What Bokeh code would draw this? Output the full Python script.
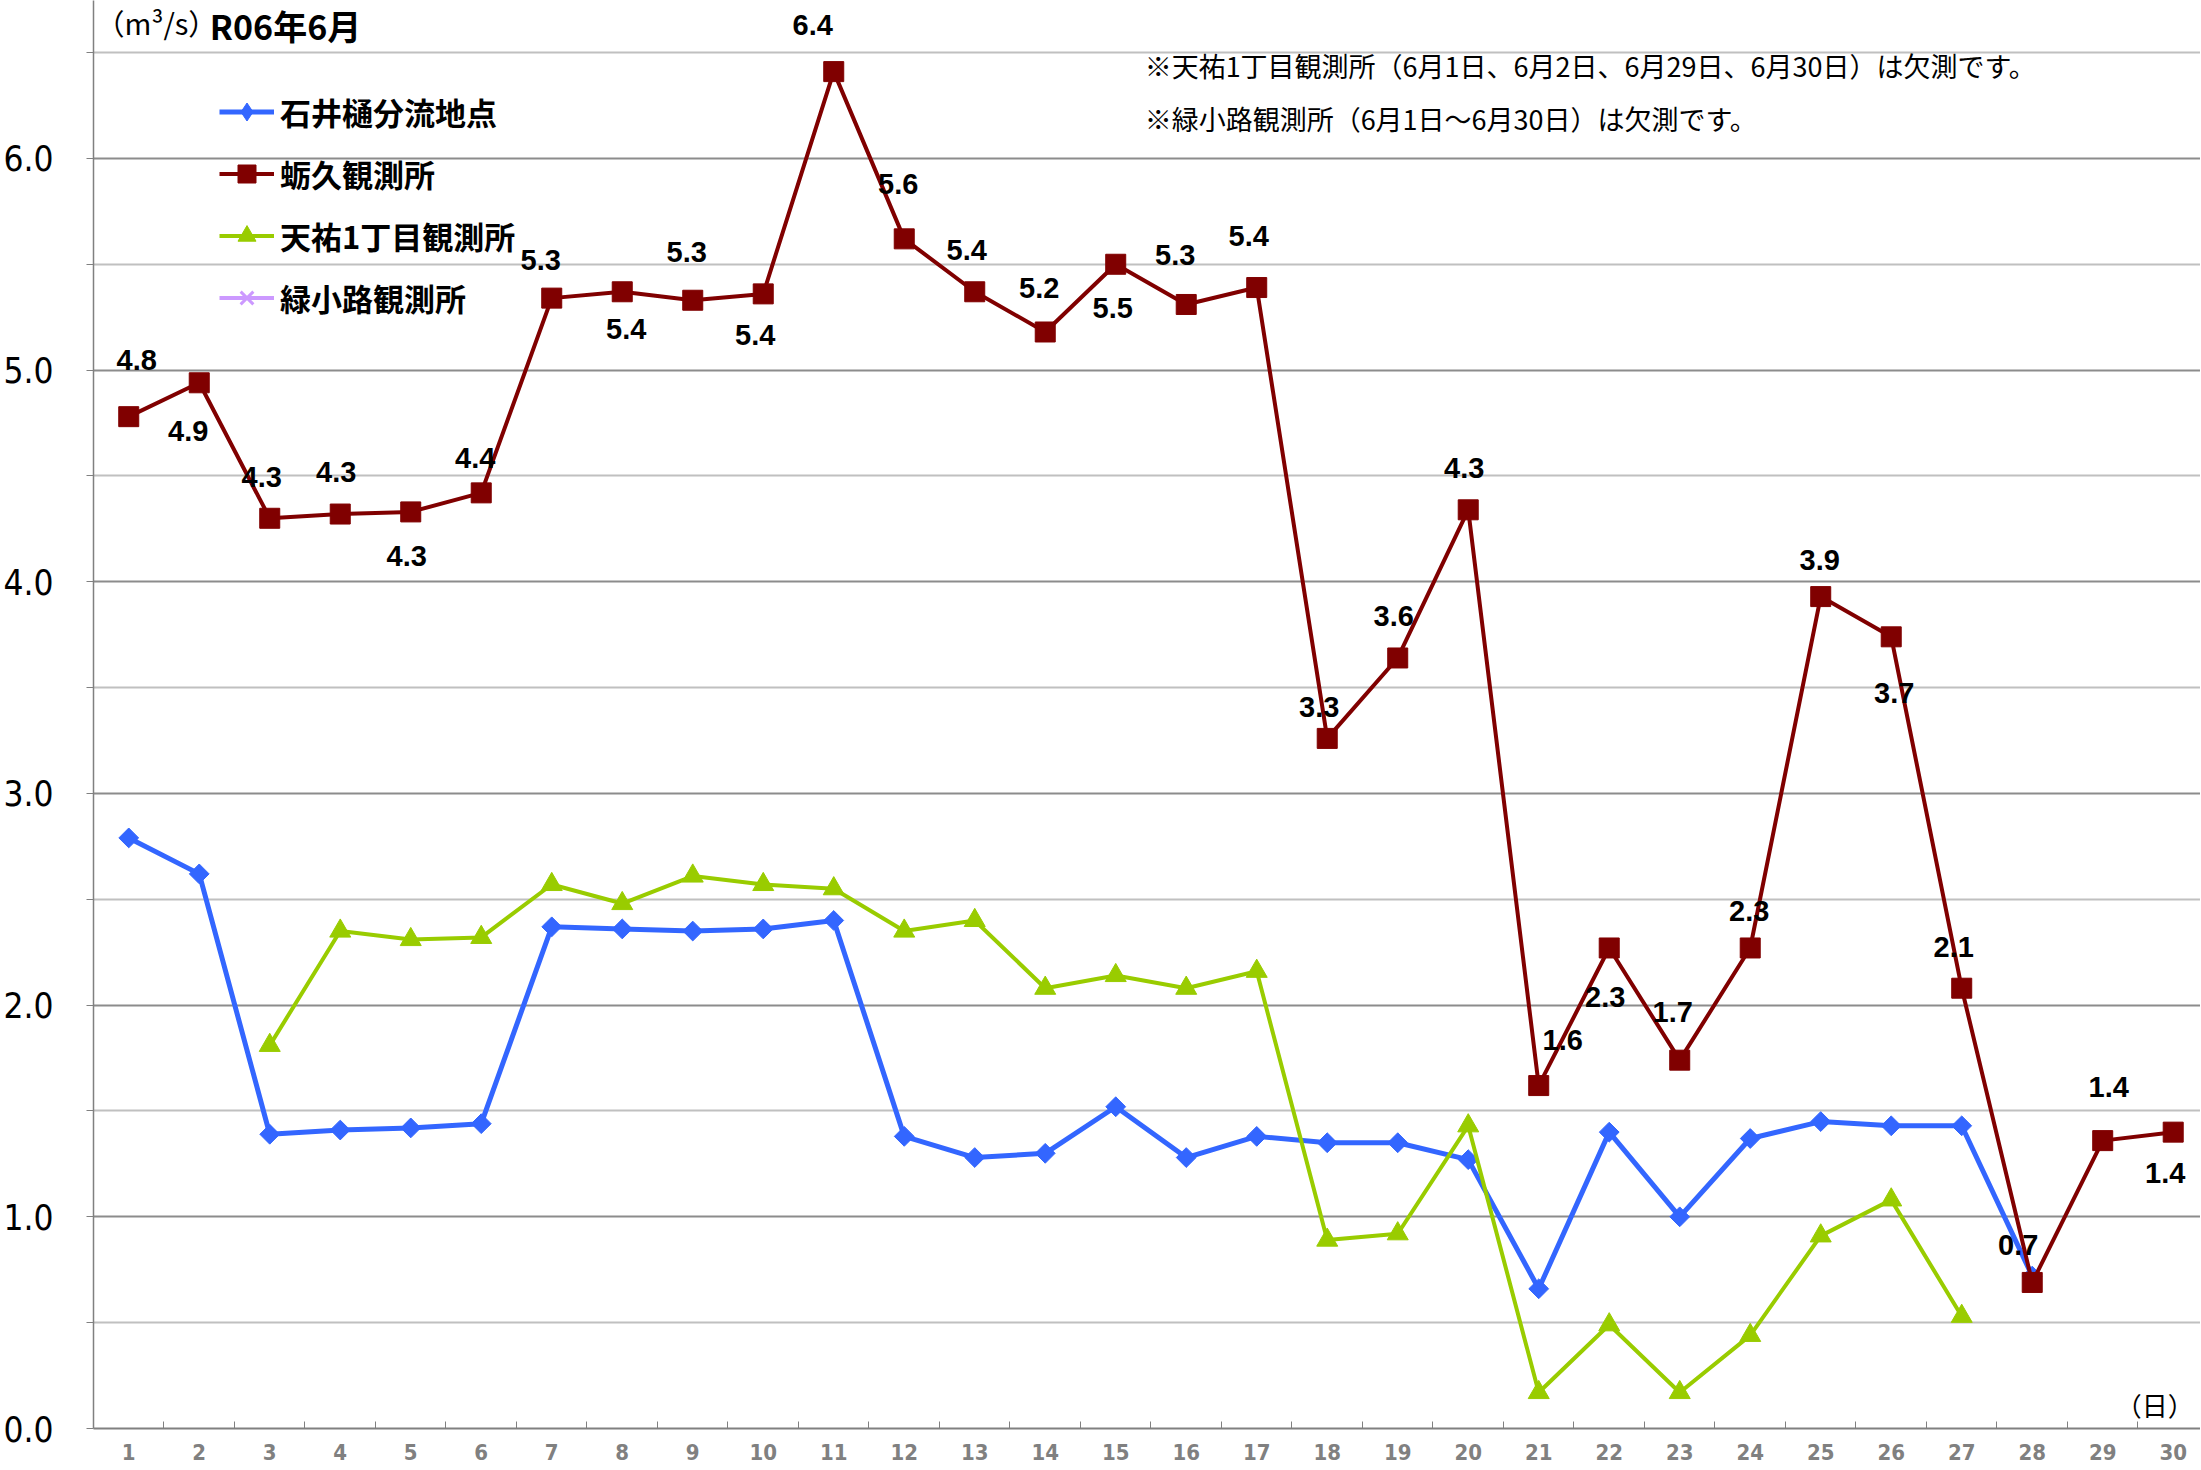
import math
from bokeh.plotting import figure
from bokeh.models import (ColumnDataSource, FixedTicker, PrintfTickFormatter,
                          Legend, LegendItem, Label, Range1d)
from bokeh.core.properties import value
from bokeh.embed import file_html
from bokeh.resources import INLINE

nan = float("nan")

# ---------------- data ----------------
days = [1, 2, 3, 4, 5, 6, 7, 8, 9, 10, 11, 12, 13, 14, 15,
        16, 17, 18, 19, 20, 21, 22, 23, 24, 25, 26, 27, 28, 29, 30]

series_names = ["石井樋分流地点", "蛎久観測所", "天祐1丁目観測所", "緑小路観測所"]

ishii = [2.79, 2.62, 1.39, 1.41, 1.42, 1.44, 2.37, 2.36, 2.35, 2.36,
         2.40, 1.38, 1.28, 1.30, 1.52, 1.28, 1.38, 1.35, 1.35, 1.27,
         0.66, 1.40, 1.00, 1.37, 1.45, 1.43, 1.43, 0.72, nan, nan]

kaku = [4.78, 4.94, 4.30, 4.32, 4.33, 4.42, 5.34, 5.37, 5.33, 5.36,
        6.41, 5.62, 5.37, 5.18, 5.50, 5.31, 5.39, 3.26, 3.64, 4.34,
        1.62, 2.27, 1.74, 2.27, 3.93, 3.74, 2.08, 0.69, 1.36, 1.40]

tenyu = [nan, nan, 1.81, 2.35, 2.31, 2.32, 2.57, 2.48, 2.61, 2.57,
         2.55, 2.35, 2.40, 2.08, 2.14, 2.08, 2.16, 0.89, 0.92, 1.43,
         0.17, 0.49, 0.17, 0.44, 0.91, 1.08, 0.53, nan, nan, nan]

midori = [nan, nan, nan, nan, nan, nan, nan, nan, nan, nan,
          nan, nan, nan, nan, nan, nan, nan, nan, nan, nan,
          nan, nan, nan, nan, nan, nan, nan, nan, nan, nan]

y_ticks = [0, 1, 2, 3, 4, 5, 6]
y_minor = [0.5, 1.5, 2.5, 3.5, 4.5, 5.5, 6.5]
x_minor = [1.5, 2.5, 3.5, 4.5, 5.5, 6.5, 7.5, 8.5, 9.5, 10.5, 11.5, 12.5,
           13.5, 14.5, 15.5, 16.5, 17.5, 18.5, 19.5, 20.5, 21.5, 22.5,
           23.5, 24.5, 25.5, 26.5, 27.5, 28.5, 29.5]

note1 = "※天祐1丁目観測所（6月1日、6月2日、6月29日、6月30日）は欠測です。"
note2 = "※緑小路観測所（6月1日～6月30日）は欠測です。"
unit_text = "（m³/s）"
title_text = "R06年6月"
day_unit = "（日）"

# label placement (screen px) for the 蛎久 data labels
kaku_dx = [8, -11, -8, -4, -4, -6, -11, 4, -6, -8, -21, -6, -8, -6, -3,
           -11, -8, -8, -4, -4, 24, -4, -7, -1, -1, 3, -8, -14, 6, -8]
kaku_dy = [-57, 48, -41, -42, 44, -35, -38, 37, -48, 41, -47, -55, -42, -44, 44,
           -49, -52, -31, -42, -42, -46, 49, -48, -37, -37, 56, -41, -37, -54, 41]

# ---------------- styles ----------------
BLUE = "#3366FF"
RED = "#800000"
GREEN = "#99CC00"
PURPLE = "#CC99FF"
JP = "Noto Sans CJK JP"
NUM = "Liberation Sans"
NARROW = "Liberation Sans Narrow, DejaVu Sans Condensed, Liberation Sans, sans-serif"

p = figure(width=2200, height=1470, output_backend="svg", toolbar_location=None,
           x_range=Range1d(0.5, 30.387), y_range=Range1d(0, 6.746),
           min_border_left=93, min_border_right=0, min_border_top=0,
           min_border_bottom=42, background_fill_color="white",
           border_fill_color="white", outline_line_color=None)

# y axis
p.yaxis.ticker = FixedTicker(ticks=y_ticks, minor_ticks=y_minor)
p.yaxis.formatter = PrintfTickFormatter(format="%.1f")
p.yaxis.major_label_text_font = NARROW
p.yaxis.major_label_text_font_size = "35px"
p.yaxis.major_label_text_color = "black"
p.yaxis.major_tick_out = 7
p.yaxis.major_tick_in = 0
p.yaxis.minor_tick_out = 7
p.yaxis.minor_tick_in = 0
p.yaxis.major_tick_line_color = "#808080"
p.yaxis.minor_tick_line_color = "#808080"
p.yaxis.axis_line_color = "#808080"
p.yaxis.axis_line_width = 1.5
p.yaxis.major_label_standoff = 33

# x axis
p.xaxis.ticker = FixedTicker(ticks=days, minor_ticks=x_minor)
p.xaxis.formatter = PrintfTickFormatter(format="%d")
p.xaxis.major_label_text_font = NARROW
p.xaxis.major_label_text_font_style = "bold"
p.xaxis.major_label_text_font_size = "22px"
p.xaxis.major_label_text_color = "#808080"
p.xaxis.major_tick_out = 0
p.xaxis.major_tick_in = 0
p.xaxis.minor_tick_in = 7
p.xaxis.minor_tick_out = 0
p.xaxis.minor_tick_line_color = "#808080"
p.xaxis.axis_line_color = "#808080"
p.xaxis.axis_line_width = 2
p.xaxis.major_label_standoff = 15

# grid
p.xgrid.grid_line_color = None
p.ygrid.grid_line_color = "#8c8c8c"
p.ygrid.grid_line_width = 2
p.ygrid.minor_grid_line_color = "#c0c0c0"
p.ygrid.minor_grid_line_width = 2

# series
src_b = ColumnDataSource(dict(x=days, y=ishii))
src_r = ColumnDataSource(dict(x=days, y=kaku))
src_g = ColumnDataSource(dict(x=days, y=tenyu))
src_p = ColumnDataSource(dict(x=days, y=midori))

lb = p.line("x", "y", source=src_b, line_color=BLUE, line_width=5)
mb = p.scatter("x", "y", source=src_b, marker="square", angle=math.pi / 4,
               size=14, color=BLUE)
# legend-only diamond (never visible in the plot area)
mb_leg = p.scatter(x=[nan], y=[nan], marker="diamond", color=BLUE)

lr = p.line("x", "y", source=src_r, line_color=RED, line_width=4)
mr = p.scatter("x", "y", source=src_r, marker="square", size=20, color=RED)

lg = p.line("x", "y", source=src_g, line_color=GREEN, line_width=4)
mg = p.scatter("x", "y", source=src_g, marker="triangle", size=21, color=GREEN)

lp = p.line("x", "y", source=src_p, line_color=PURPLE, line_width=4)
mp = p.scatter("x", "y", source=src_p, marker="x", size=16, line_color=PURPLE,
               line_width=3)

# data labels for 蛎久
lab_src = ColumnDataSource(dict(
    x=days, y=kaku, t=["%.1f" % v for v in kaku], dx=kaku_dx, dy=kaku_dy))
p.text(x="x", y="y", text="t", x_offset="dx", y_offset="dy", source=lab_src,
       text_font=value(NUM), text_font_style="bold", text_font_size="29px",
       text_color="black", text_align="center", text_baseline="middle")

# legend
legend = Legend(items=[
    LegendItem(label=series_names[0], renderers=[lb, mb_leg]),
    LegendItem(label=series_names[1], renderers=[lr, mr]),
    LegendItem(label=series_names[2], renderers=[lg, mg]),
    LegendItem(label=series_names[3], renderers=[lp, mp]),
], location=(126, 1108), glyph_width=55, glyph_height=45, spacing=17,
    padding=0, margin=0, label_standoff=6, border_line_color=None,
    background_fill_alpha=0, label_text_font=JP, label_text_font_size="31px",
    label_text_font_style="bold", label_text_color="black")
p.add_layout(legend)

# texts
p.add_layout(Label(x=0.53, y=6.746, text=unit_text, text_font=JP,
                   text_font_size="29px", text_baseline="top",
                   text_align="left", text_color="black"))
p.add_layout(Label(x=2.15, y=6.746, text=title_text, text_font=JP,
                   text_font_size="34px", text_font_style="bold",
                   text_baseline="top", text_align="left",
                   text_color="black"))
p.add_layout(Label(x=15.41, y=6.439, text=note1, text_font=JP,
                   text_font_size="27px", text_baseline="middle",
                   text_align="left", text_color="black"))
p.add_layout(Label(x=15.41, y=6.189, text=note2, text_font=JP,
                   text_font_size="27px", text_baseline="middle",
                   text_align="left", text_color="black"))
p.add_layout(Label(x=30.29, y=0.113, text=day_unit, text_font=JP,
                   text_font_size="26px", text_baseline="middle",
                   text_align="right", text_color="black"))

open("out.html", "w").write(file_html(p, INLINE))
